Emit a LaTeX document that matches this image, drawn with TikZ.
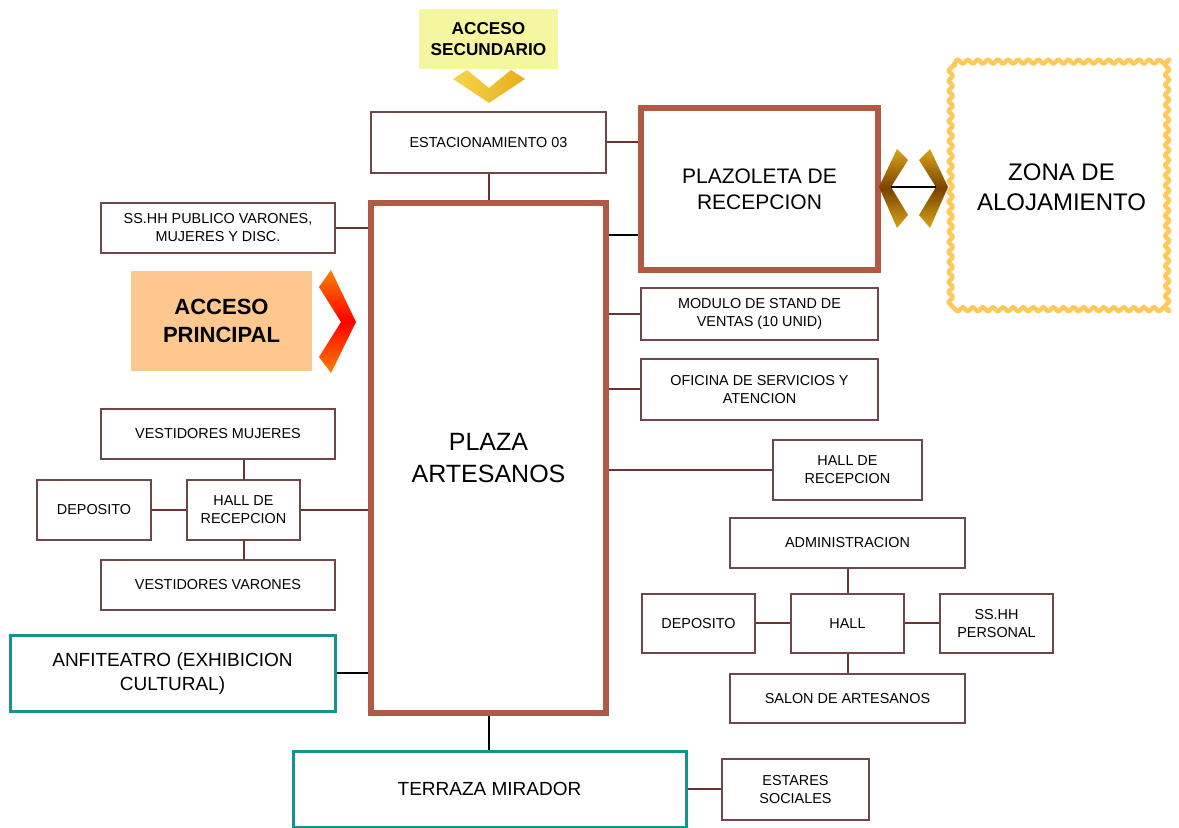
\documentclass[tikz,border=0pt]{standalone}
\usepackage{fontspec}
\setmainfont{Liberation Sans}
\usetikzlibrary{decorations.pathmorphing,calc}
\definecolor{thinb}{HTML}{6E4848}
\definecolor{conb}{HTML}{6B3434}
\definecolor{thickb}{HTML}{B05A45}
\definecolor{tealb}{HTML}{17918F}
\definecolor{yelfill}{HTML}{F5F7A0}
\definecolor{peach}{HTML}{FCC88E}
\definecolor{wavy}{HTML}{FFC95A}
\definecolor{goldA}{HTML}{F7D44C}
\definecolor{goldB}{HTML}{E6AE1C}
\definecolor{brownD}{HTML}{7A4300}
\definecolor{brownL}{HTML}{D9A317}
\newcommand\bnode[7]{%
  \pgfmathsetmacro\bw{(#5-#3)*0.5}\pgfmathsetmacro\bh{(#6-#4)*0.5}%
  \node[#2, minimum width=\bw pt, minimum height=\bh pt] (#1) at ({(#3+#5)/2},{(#4+#6)/2}) {#7};}
\tikzset{
  base/.style={inner sep=0pt, align=center, font=\fontsize{7.2}{9}\selectfont},
  thinbox/.style={base, draw=thinb, line width=0.6pt},
  thickbox/.style={base, draw=thickb, line width=3pt, font=\fontsize{10.5}{13}\selectfont},
  tealbox/.style={base, draw=tealb, line width=1.5pt, font=\fontsize{9.5}{12}\selectfont},
  accbox/.style={base, font=\bfseries\fontsize{8.6}{10.5}\selectfont},
  con/.style={draw=conb, line width=1pt},
  bcon/.style={draw=black, line width=1pt},
}
\begin{document}
\begin{tikzpicture}[x=0.5pt,y=-0.5pt]
\useasboundingbox (0,0) rectangle (1179,828);
% access labels
\bnode{accsec}{accbox, fill=yelfill}{419}{9}{558}{69}{ACCESO\\SECUNDARIO}
\bnode{accpri}{accbox, fill=peach, font=\bfseries\fontsize{11}{14}\selectfont}{131}{271}{312}{371}{ACCESO\\PRINCIPAL}
% main boxes
\bnode{est}{thinbox}{371}{112}{606}{173}{ESTACIONAMIENTO 03}
\bnode{plazoleta}{thickbox}{641}{108}{878}{270}{PLAZOLETA DE\\RECEPCION}
\bnode{zona}{base, font=\fontsize{12}{15}\selectfont}{955}{62}{1168}{312}{ZONA DE\\ALOJAMIENTO}
\draw[draw=wavy, line width=2.2pt, line join=round, decorate, decoration={snake, segment length=5.0326pt, amplitude=1pt}] (zona.north west) -- (zona.north east) -- (zona.south east) -- (zona.south west) -- cycle;
\bnode{sshh}{thinbox}{101}{203}{335}{253}{SS.HH PUBLICO VARONES,\\MUJERES Y DISC.}
\bnode{plaza}{thickbox, font=\fontsize{12.5}{16}\selectfont}{371}{203}{606}{713}{PLAZA\\ARTESANOS}
\bnode{mod}{thinbox}{641}{288}{878}{340}{MODULO DE STAND DE\\VENTAS (10 UNID)}
\bnode{ofi}{thinbox}{641}{359}{878}{420}{OFICINA DE SERVICIOS Y\\ATENCION}
\bnode{hr}{thinbox}{773}{440}{922}{500}{HALL DE\\RECEPCION}
\bnode{adm}{thinbox}{730}{518}{965}{568}{ADMINISTRACION}
\bnode{depr}{thinbox}{642}{594}{755}{653}{DEPOSITO}
\bnode{hall}{thinbox}{791}{594}{904}{653}{HALL}
\bnode{ssp}{thinbox}{940}{594}{1053}{653}{SS.HH\\PERSONAL}
\bnode{salon}{thinbox}{730}{674}{965}{723}{SALON DE ARTESANOS}
\bnode{vm}{thinbox}{101}{409}{335}{459}{VESTIDORES MUJERES}
\bnode{depl}{thinbox}{37}{480}{151}{540}{DEPOSITO}
\bnode{hl}{thinbox}{187}{480}{300}{540}{HALL DE\\RECEPCION}
\bnode{vv}{thinbox}{101}{560}{335}{610}{VESTIDORES VARONES}
\bnode{anf}{tealbox}{10}{636}{335}{711}{ANFITEATRO (EXHIBICION\\CULTURAL)}
\bnode{ter}{tealbox}{293}{751}{686}{827}{TERRAZA MIRADOR}
\bnode{esta}{thinbox}{722}{759}{869}{820}{ESTARES\\SOCIALES}
\coordinate (pj) at (623,235);
% connectors
\draw[con] (est.east) -- (est.east -| plazoleta.west);
\draw[con] (est.south) -- (plaza.north);
\draw[bcon] (plaza.east |- pj) -- (plazoleta.west |- pj);
\draw[con] (sshh.east) -- (sshh.east -| plaza.west);
\draw[con] (mod.west -| plaza.east) -- (mod.west);
\draw[con] (ofi.west -| plaza.east) -- (ofi.west);
\draw[con] (hr.west -| plaza.east) -- (hr.west);
\draw[con] (vm.south -| hl.north) -- (hl.north);
\draw[con] (depl.east) -- (hl.west);
\draw[con] (hl.east) -- (hl.east -| plaza.west);
\draw[con] (hl.south) -- (hl.south |- vv.north);
\draw[bcon] (anf.east) -- (anf.east -| plaza.west);
\draw[bcon] (plaza.south) -- (plaza.south |- ter.north);
\draw[con] (ter.east) -- (ter.east -| esta.west);
\draw[con] (adm.south) -- (hall.north);
\draw[con] (depr.east) -- (hall.west);
\draw[con] (hall.east) -- (ssp.west);
\draw[con] (hall.south) -- (salon.north);
% chevron under acceso secundario
\shade[left color=goldA, right color=goldB] (453,79) -- (467,70) -- (489,88) -- (511,70) -- (525,79) -- (489,103) -- cycle;
% red chevron acceso principal
\shade[top color=orange, bottom color=orange, middle color=red] (319,287) -- (331,270) -- (356,322) -- (331,373) -- (319,357) -- (341,322) -- cycle;
% double chevron between plazoleta and zona
\coordinate (dl) at (891,187);
\coordinate (dr) at (936,187);
\shade[top color=brownL, bottom color=brownL, middle color=brownD] (879,187) -- (897,149) -- (908,160) -- (891,187) -- (908,215) -- (897,228) -- cycle;
\shade[top color=brownL, bottom color=brownL, middle color=brownD] (948,187) -- (930,149) -- (919,160) -- (936,187) -- (919,215) -- (930,228) -- cycle;
\draw[black, line width=1pt] (dl) -- (dr);
\end{tikzpicture}
\end{document}
